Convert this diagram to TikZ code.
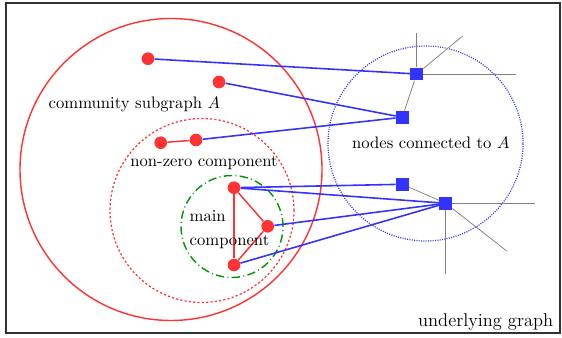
\documentclass[tikz,border=0pt]{standalone}
\usetikzlibrary{backgrounds}
\definecolor{cred}{RGB}{255,51,51}
\definecolor{cblue}{RGB}{51,51,255}
\definecolor{cgreen}{RGB}{0,150,0}
\definecolor{cframe}{RGB}{51,51,51}
\tikzset{
  rdot/.style={circle,fill=cred,inner sep=0pt,minimum size=7.6pt},
  bsq/.style={rectangle,fill=cblue,inner sep=0pt,minimum size=7.6pt},
  redge/.style={cred,line width=0.9pt},
  bedge/.style={cblue,line width=0.95pt},
  gedge/.style={gray,line width=0.45pt},
  lbl/.style={inner sep=0pt,font=\normalsize}
}
\begin{document}
\begin{tikzpicture}[x=0.6pt,y=-0.6pt]
\useasboundingbox (0,0) rectangle (562,338);
% nodes
\node[rdot] (a1) at (148,58.7) {};
\node[rdot] (a2) at (219,82) {};
\node[rdot] (a3) at (160.7,142.7) {};
\node[rdot] (a4) at (196,140) {};
\node[rdot] (m1) at (234,187.7) {};
\node[rdot] (m2) at (267.7,226.3) {};
\node[rdot] (m3) at (234,265) {};
\node[bsq] (b1) at (416.7,74) {};
\node[bsq] (b2) at (402.3,117.3) {};
\node[bsq] (b3) at (402.3,184.3) {};
\node[bsq] (b4) at (445.7,203.3) {};
\coordinate (g1) at (416.7,32.7);
\coordinate (g2) at (462.7,36);
\coordinate (g3) at (516,74);
\coordinate (g4) at (535.3,203.3);
\coordinate (g5) at (445.7,274);
\coordinate (g6) at (506.7,251);
% labels
\node[lbl,anchor=base west] (t1) at (48.3,108.3) {community subgraph $A$};
\node[lbl,anchor=base west] (t2) at (130,166.7) {non-zero component};
\node[lbl,anchor=base west] (t3) at (189.3,221.7) {main};
\node[lbl,anchor=base west] (t4) at (189.3,245.7) {component};
\node[lbl,anchor=base west] (t5) at (351.7,148.3) {nodes connected to $A$};
\node[lbl,anchor=base east,font=\fontsize{11.07}{13}\selectfont] (t6) at (553.5,326.3) {underlying graph};
\begin{scope}[on background layer]
  \draw[cframe,line width=1.2pt] (5.5,3.5) rectangle (559.5,333);
  \draw[cred,line width=0.85pt] (171,169.5) circle[radius=90.6pt];
  \draw[cred,line width=0.75pt,dash pattern=on 1.3pt off 1.3pt] (202,210.5) circle[radius=55.2pt];
  \draw[cgreen,line width=0.85pt,dash pattern=on 5pt off 2pt on 0.6pt off 2pt] (232,226.5) circle[radius=30.6pt];
  \draw[cblue,line width=0.75pt,dash pattern=on 0.6pt off 0.8pt] (425.5,143.5) circle[radius=58.5pt];
  % gray edges
  \draw[gedge] (b1) -- (g1);
  \draw[gedge] (b1) -- (g2);
  \draw[gedge] (b1) -- (g3);
  \draw[gedge] (b1) -- (b2);
  \draw[gedge] (b3) -- (b4);
  \draw[gedge] (b4) -- (g4);
  \draw[gedge] (b4) -- (g5);
  \draw[gedge] (b4) -- (g6);
  % red edges
  \draw[redge] (a3) -- (a4);
  \draw[redge] (m1) -- (m2);
  \draw[redge] (m1) -- (m3);
  \draw[redge] (m2) -- (m3);
  % blue edges
  \draw[bedge] (a1) -- (b1);
  \draw[bedge] (a2) -- (b2);
  \draw[bedge] (a4) -- (b2);
  \draw[bedge] (m1) -- (b3);
  \draw[bedge] (m1) -- (b4);
  \draw[bedge] (m2) -- (b4);
  \draw[bedge] (m3) -- (b4);
\end{scope}
\end{tikzpicture}
\end{document}
